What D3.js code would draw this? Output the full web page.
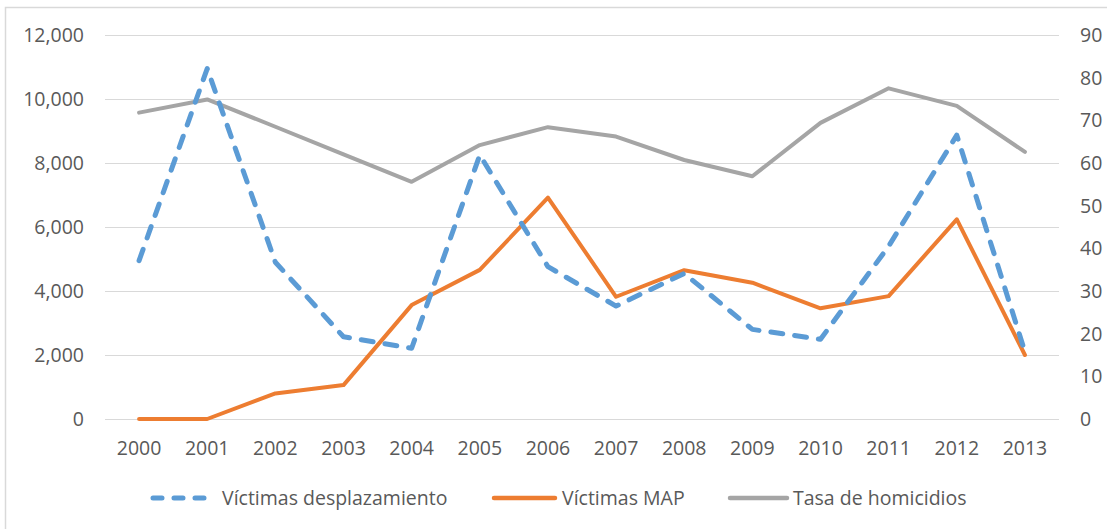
<!DOCTYPE html>
<html>
<head>
<meta charset="utf-8">
<script src="https://cdn.jsdelivr.net/npm/d3@7"></script>
<style>
  html, body { margin: 0; padding: 0; background: #fff; }
  svg text { font-family: "Open Sans", "Noto Sans", sans-serif; fill: #595959; }
</style>
</head>
<body>
<svg id="chart" width="1107" height="529"></svg>
<script>
const years = ["2000","2001","2002","2003","2004","2005","2006","2007","2008","2009","2010","2011","2012","2013"];
const desplazamiento = [4950, 10950, 4900, 2570, 2210, 8250, 4760, 3530, 4550, 2800, 2490, 5400, 8870, 2100];
const map = [0, 0, 800, 1060, 3560, 4660, 6920, 3820, 4650, 4260, 3460, 3840, 6240, 2000];
const homicidios = [71.8, 74.9, 68.5, 62.0, 55.6, 64.2, 68.4, 66.2, 60.7, 56.9, 69.4, 77.5, 73.4, 62.6];
const leftTicks = [0, 2000, 4000, 6000, 8000, 10000, 12000];
const rightTicks = [0, 10, 20, 30, 40, 50, 60, 70, 80, 90];
const seriesNames = ["Víctimas desplazamiento", "Víctimas MAP", "Tasa de homicidios"];

const svg = d3.select("#chart");
const W = 1107, H = 529;
const plot = { left: 105, right: 1059, top: 35, bottom: 419 };
const fs = 19.5;

// chart frame
svg.append("rect")
  .attr("x", 5.5).attr("y", 7.5)
  .attr("width", W + 10).attr("height", H + 10)
  .attr("fill", "none").attr("stroke", "#D9D9D9").attr("stroke-width", 1.5);

const x = d3.scaleBand().domain(years).range([plot.left, plot.right]).padding(0);
const yL = d3.scaleLinear().domain([0, 12000]).range([plot.bottom, plot.top]);
const yR = d3.scaleLinear().domain([0, 90]).range([plot.bottom, plot.top]);
const cx = d => x(d) + x.bandwidth() / 2;

// gridlines
svg.append("g").selectAll("line").data(leftTicks).join("line")
  .attr("x1", plot.left).attr("x2", plot.right)
  .attr("y1", d => Math.round(yL(d)) + 0.5).attr("y2", d => Math.round(yL(d)) + 0.5)
  .attr("stroke", "#D9D9D9").attr("stroke-width", 1.2);

// left axis
const axL = d3.axisLeft(yL).tickValues(leftTicks).tickSize(0).tickPadding(0)
  .tickFormat(d3.format(","));
const gL = svg.append("g").attr("transform", `translate(${plot.left - 21},0)`).call(axL);
gL.select(".domain").remove();
gL.selectAll("text").attr("font-size", fs).attr("font-family", null).attr("fill", "#595959").attr("dy", "0.34em");

// right axis
const axR = d3.axisRight(yR).tickValues(rightTicks).tickSize(0).tickPadding(0);
const gR = svg.append("g").attr("transform", `translate(1080,0)`).call(axR);
gR.select(".domain").remove();
gR.selectAll("text").attr("font-size", fs).attr("font-family", null).attr("fill", "#595959").attr("dy", "0.34em");

// bottom axis
const axB = d3.axisBottom(x).tickSize(0).tickPadding(0);
const gB = svg.append("g").attr("transform", `translate(0,${plot.bottom + 22})`).call(axB);
gB.select(".domain").remove();
gB.selectAll("text").attr("font-size", fs).attr("font-family", null).attr("fill", "#595959").attr("dy", "0.7em");

// lines
const lineL = d3.line().x((d, i) => cx(years[i])).y(d => yL(d));
const lineR = d3.line().x((d, i) => cx(years[i])).y(d => yR(d));

svg.append("path").datum(homicidios).attr("d", lineR)
  .attr("fill", "none").attr("stroke", "#A5A5A5").attr("stroke-width", 4)
  .attr("stroke-linejoin", "round").attr("stroke-linecap", "round");

svg.append("path").datum(map).attr("d", lineL)
  .attr("fill", "none").attr("stroke", "#ED7D31").attr("stroke-width", 4)
  .attr("stroke-linejoin", "round").attr("stroke-linecap", "round");

svg.append("path").datum(desplazamiento).attr("d", lineL)
  .attr("fill", "none").attr("stroke", "#5B9BD5").attr("stroke-width", 5)
  .attr("stroke-dasharray", "12,12")
  .attr("stroke-linejoin", "round").attr("stroke-linecap", "round");

// legend
const legY = 498;
const leg = [
  { name: seriesNames[0], color: "#5B9BD5", dash: "9,12", x1: 153, x2: 213, tx: 222, w: 5 },
  { name: seriesNames[1], color: "#ED7D31", dash: null, x1: 494, x2: 555, tx: 562, w: 4.5 },
  { name: seriesNames[2], color: "#A5A5A5", dash: null, x1: 730, x2: 787, tx: 793, w: 4.5 }
];
const lg = svg.append("g");
leg.forEach(l => {
  const ln = lg.append("line").attr("x1", l.x1).attr("x2", l.x2).attr("y1", legY).attr("y2", legY)
    .attr("stroke", l.color).attr("stroke-width", l.w).attr("stroke-linecap", "round");
  if (l.dash) ln.attr("stroke-dasharray", l.dash);
  lg.append("text").attr("x", l.tx).attr("y", legY).attr("dy", "0.35em")
    .attr("font-size", fs).text(l.name);
});
</script>
</body>
</html>
